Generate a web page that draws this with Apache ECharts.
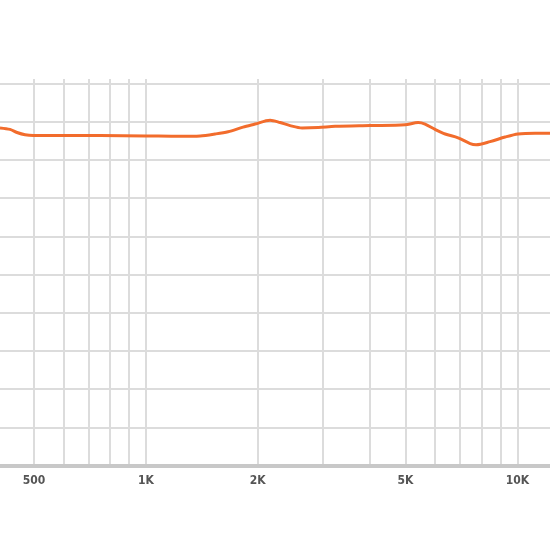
<!DOCTYPE html>
<html>
<head>
    <meta charset="UTF-8"/>
    <title>Frequency response</title>
    <style>
        * {
            padding: 0;
            margin: 0;
        }

        body {
            background-color: white;
        }

        #chart {
            width: 550px;
            height: 550px;
        }
    </style>
    <script src="https://cdn.jsdelivr.net/npm/echarts@6/dist/echarts.min.js"></script>
</head>
<body>
<div id="chart"></div>
</body>
<script>
    // frequency (Hz) and level
    const freqs = [405, 431, 450, 473, 498, 588, 753, 1000, 1237, 1400, 1536, 1665, 1827, 1968, 2160, 2298, 2445, 2634, 2909, 3232, 4014, 4986, 5404, 5643, 6005, 6391, 6925, 7460, 7742, 8444, 9267, 10040, 11160, 12240]
    const levels = [4.2, 4.0, 3.6, 3.3, 3.2, 3.2, 3.2, 3.15, 3.1, 3.15, 3.4, 3.7, 4.3, 4.7, 5.2, 4.9, 4.5, 4.2, 4.25, 4.4, 4.5, 4.6, 4.9, 4.7, 4.0, 3.4, 2.9, 2.15, 2.0, 2.4, 3.0, 3.4, 3.5, 3.5]

    const gridFreqs = [500, 600, 700, 800, 900, 1000, 2000, 3000, 4000, 5000, 6000, 7000, 8000, 9000, 10000]
    const labelFreqs = [500, 1000, 2000, 5000, 10000]

    const chart = echarts.init(document.getElementById('chart'))

    chart.setOption({
        animation: false,
        grid: {
            left: 0,
            right: 0,
            top: 79,
            bottom: 84.5
        },
        xAxis: {
            type: 'log',
            logBase: 10,
            min: 405,
            max: 12240,
            axisLine: {
                show: true,
                onZero: false,
                lineStyle: {color: '#c8c8c8', width: 4}
            },
            axisTick: {
                show: false,
                customValues: gridFreqs
            },
            axisLabel: {
                customValues: labelFreqs,
                margin: 9,
                color: '#555',
                fontSize: 12,
                fontWeight: 'bold',
                fontFamily: '"DejaVu Sans Condensed", "Liberation Sans Narrow", sans-serif',
                formatter: v => v >= 1000 ? (v / 1000) + 'K' : String(v)
            },
            splitLine: {
                show: true,
                lineStyle: {color: '#dcdcdc', width: 2}
            }
        },
        yAxis: {
            type: 'value',
            min: -40,
            max: 10.6,
            interval: 5,
            axisLine: {show: false},
            axisTick: {show: false},
            axisLabel: {show: false},
            splitLine: {
                show: true,
                showMinLine: false,
                showMaxLine: false,
                lineStyle: {color: '#dcdcdc', width: 2}
            }
        },
        series: [
            {
                type: 'line',
                smooth: 0.3,
                showSymbol: false,
                data: freqs.map((f, i) => [f, levels[i]]),
                lineStyle: {color: '#f26c2c', width: 3}
            }
        ]
    })
</script>
</html>
